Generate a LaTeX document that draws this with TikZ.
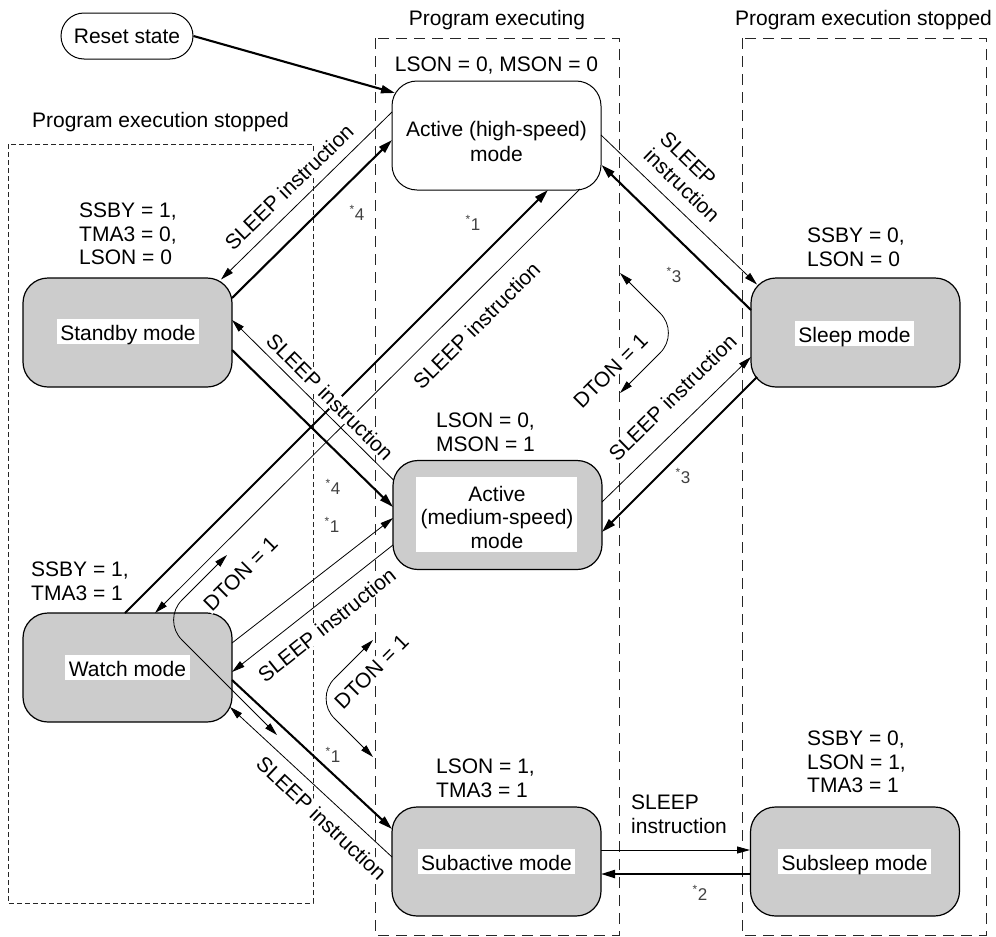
\documentclass[tikz,border=0pt]{standalone}
\usepackage{fontspec}
\setmainfont{Liberation Sans}
\usetikzlibrary{arrows.meta,calc}
\definecolor{boxgrey}{HTML}{CCCCCC}
\begin{document}
\begin{tikzpicture}[x=1pt,y=-1pt,
  every node/.style={font=\fontsize{21}{23.5}\selectfont, inner sep=0pt},
  modebox/.style={draw, line width=1.2pt, rounded corners=25pt, minimum width=209pt, minimum height=109pt},
  greymode/.style={modebox, fill=boxgrey},
  modetext/.style={fill=white, inner xsep=3.5pt, inner ysep=1.5pt, text height=20pt, text depth=2pt},
  cond/.style={anchor=north west, align=left},
  lbl/.style={fill=white, inner sep=1pt},
  note/.style={font=\fontsize{17}{17}\selectfont, text=black!75},
  sarrow/.style={line width=0.8pt, -{Triangle[length=13pt,width=7pt]}},
  barrow/.style={line width=2.1pt, -{Triangle[length=14pt,width=8pt]}},
  dton/.style={line width=0.8pt, {Triangle[length=13pt,width=7pt]}-{Triangle[length=13pt,width=7pt]}, rounded corners=28pt},
  region/.style={draw=black!85, line width=1pt, dash pattern=on 11pt off 7pt},
  lregion/.style={draw=black!85, line width=1pt, dash pattern=on 5pt off 3pt},
]
\useasboundingbox (0,0) rectangle (996,937);

% regions
\draw[lregion] (8,144) rectangle (313,903);
\draw[region] (375,38) rectangle (619,935);
\draw[region] (742,38) rectangle (986,935);
\node[anchor=base] (tmid) at (497,25.5) {Program executing};
\node[anchor=base] (tright) at (863.5,25.5) {Program execution stopped};
\node[anchor=base] (tleft) at (160.5,127.5) {Program execution stopped};

% nodes
\node[draw, line width=1pt, rounded corners=23pt, minimum width=132pt, minimum height=46pt] (reset) at (127,36) {Reset state};

\node[modebox, fill=white, line width=1pt] (ah) at (496.5,135.5) {};
\node[align=center, font=\fontsize{21}{24.5}\selectfont] (aht) at (496.5,141.5) {Active (high-speed)\\mode};
\node[anchor=base] (ahc) at (496.5,71) {LSON = 0, MSON = 0};

\node[greymode] (sb) at (127.5,332.5) {};
\node[modetext] (sbt) at (128,331.5) {Standby mode};
\node[cond] (sbc) at (79,203) {SSBY = 1,\\TMA3 = 0,\\LSON = 0};

\node[greymode] (sl) at (855.5,332.5) {};
\node[modetext] (slt) at (854.5,333) {Sleep mode};
\node[cond] (slc) at (807,228) {SSBY = 0,\\LSON = 0};

\node[greymode] (am) at (497.5,515) {};
\node[fill=white, minimum width=161pt, minimum height=75pt] (amw) at (496.5,514.5) {};
\node[align=center] (amt) at (497,517) {Active\\(medium-speed)\\mode};
\node[cond] (amc) at (436,413) {LSON = 0,\\MSON = 1};

\node[greymode] (wa) at (127.5,667.5) {};
\node[modetext] (wat) at (127.5,667) {Watch mode};
\node[cond] (wac) at (31,562) {SSBY = 1,\\TMA3 = 1};

\node[greymode] (sa) at (496.5,861.5) {};
\node[modetext] (sat) at (496.5,861.5) {Subactive mode};
\node[cond] (sac) at (436,759) {LSON = 1,\\TMA3 = 1};

\node[greymode] (ss) at (855,861.5) {};
\node[modetext] (sst) at (854.5,861.5) {Subsleep mode};
\node[cond] (ssc) at (807,731) {SSBY = 0,\\LSON = 1,\\TMA3 = 1};

% connectors
\draw[barrow] (reset.east) -- ($(ah)+(-101.5,-42.5)$);
\draw[sarrow] ($(ah)+(-104.5,-23.5)$) -- ($(sb)+(93.5,-53)$);
\draw[barrow] ($(sb)+(104.5,-34.5)$) -- ($(ah)+(-104.5,4.5)$);
\draw[sarrow] ($(ah)+(104.5,-0.5)$) -- ($(sl)+(-98.5,-48)$);
\draw[barrow] ($(sl)+(-104.5,-22.5)$) -- ($(ah)+(105,29.5)$);
\draw[sarrow] ($(am)+(104.5,-13)$) -- ($(sl)+(-104.5,24.5)$);
\draw[barrow] ($(sl)+(-98.5,44.5)$) -- ($(am)+(104.5,17)$);
\draw[barrow] ($(sb)+(104.5,17.5)$) -- ($(am)+(-104.5,-8)$);
\draw[sarrow] ($(am)+(-104,-35)$) -- ($(sb)+(104.5,-12.5)$);
\draw[barrow] ($(wa)+(-2.5,-54.5)$) -- ($(ah)+(51.5,54.5)$);
\draw[sarrow] ($(ah)+(83.5,53.5)$) -- ($(wa)+(27.5,-54.5)$);
\draw[sarrow] ($(wa)+(104.5,-24.5)$) -- ($(am)+(-104.5,3)$);
\draw[sarrow] ($(am)+(-104.5,30)$) -- ($(wa)+(104.5,4.5)$);
\draw[barrow] ($(wa)+(104.5,12.5)$) -- ($(sa)+(-104.5,-32.5)$);
\draw[sarrow] ($(sa)+(-104.5,-4.5)$) -- ($(wa)+(102.5,39.5)$);
\draw[sarrow] ($(sa)+(104.5,-11.5)$) -- ($(ss)+(-105,-11.5)$);
\draw[barrow] ($(ss)+(-105,12.5)$) -- ($(sa)+(104.5,12.5)$);

% DTON loops
\coordinate (d1a) at (227,555); \coordinate (d1v) at (162,620); \coordinate (d1b) at (277,735);
\draw[dton] (d1a) -- (d1v) -- (d1b);
\coordinate (d2a) at (373,640); \coordinate (d2v) at (314.5,698.5); \coordinate (d2b) at (373,757);
\draw[dton] (d2a) -- (d2v) -- (d2b);
\coordinate (d3a) at (620,273); \coordinate (d3v) at (680,333); \coordinate (d3b) at (620,393);
\draw[dton] (d3a) -- (d3v) -- (d3b);

% labels
\node[lbl, rotate=44] (l1) at (289,187) {SLEEP instruction};
\node[lbl, rotate=-44, align=left] (l2) at (690,177) {SLEEP\\instruction};
\node[lbl, rotate=-45] (l3) at (330,397) {SLEEP instruction};
\node[lbl, rotate=45] (l4) at (476.5,325.5) {SLEEP instruction};
\node[lbl, rotate=44.5] (l5) at (672.5,397.5) {SLEEP instruction};
\node[lbl, rotate=38.6] (l6) at (326.7,625) {SLEEP instruction};
\node[lbl, rotate=-43.3] (l7) at (321.7,818.3) {SLEEP instruction};
\node[cond] (l8) at (631,795) {SLEEP\\instruction};
\node[lbl, rotate=45] (dl1) at (240.5,574) {DTON = 1};
\node[lbl, rotate=45] (dl2) at (371.5,672) {DTON = 1};
\node[lbl, rotate=45] (dl3) at (610.5,371) {DTON = 1};

% notes
\node[note] (n1) at (357,213) {\textsuperscript{*}4};
\node[note] (n2) at (473,223) {\textsuperscript{*}1};
\node[note] (n3) at (674,275) {\textsuperscript{*}3};
\node[note] (n4) at (683,476) {\textsuperscript{*}3};
\node[note] (n5) at (333,487) {\textsuperscript{*}4};
\node[note] (n6) at (332,525) {\textsuperscript{*}1};
\node[note] (n7) at (333,755) {\textsuperscript{*}1};
\node[note] (n8) at (700,893) {\textsuperscript{*}2};
\end{tikzpicture}
\end{document}
